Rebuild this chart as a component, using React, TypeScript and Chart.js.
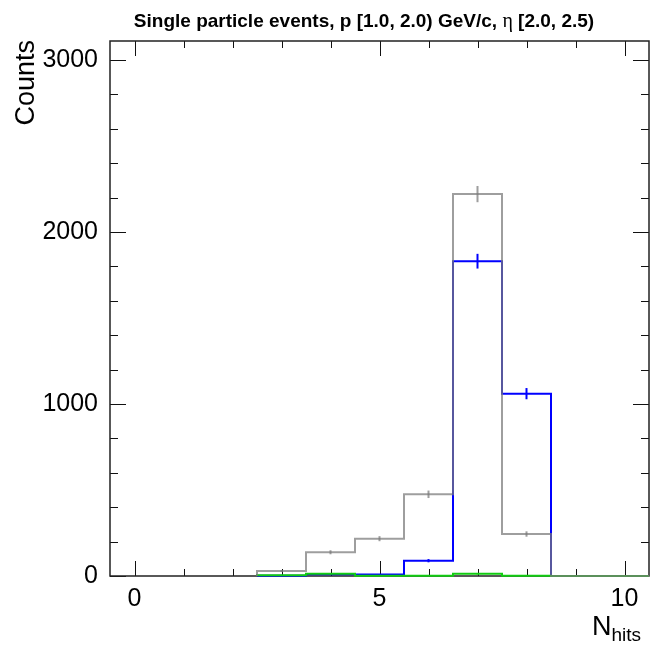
import React, { useEffect, useRef } from "react";
import { Chart, registerables } from "chart.js";

Chart.register(...registerables);

// ---- data ----
const binCenters = [3, 4, 5, 6, 7, 8, 9, 10];
const grayCounts = [29, 138, 217, 475, 2220, 244, 0, 0];
const blueCounts = [2, 10, 8, 89, 1830, 1060, 0, 0];
const greenCounts = [4, 13, 2, 2, 13, 1, 0, 0];
const xTickValues = [0, 5, 10];
const yTickValues = [0, 1000, 2000, 3000];
const titleParts = ["Single particle events, p [1.0, 2.0) GeV/c, ", "η", " [2.0, 2.5)"];
const yAxisTitle = "Counts";
const xAxisTitleMain = "N";
const xAxisTitleSub = "hits";

const X_MIN = -0.5;
const X_MAX = 10.5;
const Y_MAX = 3110;

const SANS = "'Liberation Sans', Arial, Helvetica, sans-serif";
const SERIF = "'Liberation Serif', 'Times New Roman', serif";

function stepPoints(counts: number[]) {
  const pts: { x: number; y: number }[] = [{ x: binCenters[0] - 0.5, y: 0 }];
  counts.forEach((v, i) => pts.push({ x: binCenters[i] + 0.5, y: v }));
  pts.push({ x: binCenters[binCenters.length - 1] + 0.5, y: 0 });
  return pts;
}

const errorBarPlugin = {
  id: "errorBars",
  afterDatasetDraw(chart: any, args: any) {
    const ds = chart.data.datasets[args.index];
    const counts: number[] = ds.counts;
    if (!counts) return;
    const ctx = chart.ctx;
    const xs = chart.scales.x;
    const ys = chart.scales.y;
    ctx.save();
    ctx.strokeStyle = ds.borderColor;
    ctx.lineWidth = 2;
    counts.forEach((v, i) => {
      if (v <= 0) return;
      const e = Math.sqrt(v);
      const px = xs.getPixelForValue(binCenters[i]);
      ctx.beginPath();
      ctx.moveTo(px, ys.getPixelForValue(v - e));
      ctx.lineTo(px, ys.getPixelForValue(v + e));
      ctx.stroke();
    });
    ctx.restore();
  },
};

const framePlugin = {
  id: "rootFrame",
  beforeDatasetsDraw(chart: any) {
    const ctx = chart.ctx;
    const a = chart.chartArea;
    const xs = chart.scales.x;
    const ys = chart.scales.y;
    ctx.save();
    ctx.strokeStyle = "#111";
    ctx.lineWidth = 1;
    // x ticks (every integer, major every 5)
    for (let v = 0; v <= 10; v++) {
      const px = Math.round(xs.getPixelForValue(v)) + 0.5;
      const len = v % 5 === 0 ? 15 : 7;
      ctx.beginPath();
      ctx.moveTo(px, a.bottom);
      ctx.lineTo(px, a.bottom - len);
      ctx.moveTo(px, a.top);
      ctx.lineTo(px, a.top + len);
      ctx.stroke();
    }
    // y ticks (every 200, major every 1000)
    for (let v = 0; v <= Y_MAX; v += 200) {
      const py = Math.round(ys.getPixelForValue(v)) + 0.5;
      const len = v % 1000 === 0 ? 16 : 8;
      ctx.beginPath();
      ctx.moveTo(a.left, py);
      ctx.lineTo(a.left + len, py);
      ctx.moveTo(a.right, py);
      ctx.lineTo(a.right - len, py);
      ctx.stroke();
    }
    // frame
    ctx.lineWidth = 1.5;
    ctx.strokeStyle = "#222";
    ctx.strokeRect(a.left, a.top, a.right - a.left, a.bottom - a.top);
    ctx.restore();
  },
  afterDraw(chart: any) {
    const ctx = chart.ctx;
    ctx.save();
    // title
    ctx.fillStyle = "#000";
    ctx.textBaseline = "alphabetic";
    ctx.textAlign = "left";
    const fonts = [`bold 19px ${SANS}`, `20px ${SERIF}`, `bold 19px ${SANS}`];
    let total = 0;
    const widths = titleParts.map((t, i) => {
      ctx.font = fonts[i];
      const w = ctx.measureText(t).width;
      total += w;
      return w;
    });
    let tx = 364 - total / 2;
    titleParts.forEach((t, i) => {
      ctx.font = fonts[i];
      ctx.fillText(t, tx, 27);
      tx += widths[i];
    });

    // y axis title
    ctx.save();
    ctx.translate(34, 40);
    ctx.rotate(-Math.PI / 2);
    ctx.font = `27px ${SANS}`;
    ctx.textAlign = "right";
    ctx.fillText(yAxisTitle, 0, 0);
    ctx.restore();

    // x axis title
    ctx.textAlign = "right";
    ctx.font = `19px ${SANS}`;
    const subW = ctx.measureText(xAxisTitleSub).width;
    ctx.fillText(xAxisTitleSub, 641, 641);
    ctx.font = `27px ${SANS}`;
    ctx.fillText(xAxisTitleMain, 641 - subW, 635);
    ctx.restore();
  },
};

function histDataset(label: string, counts: number[], color: string, order: number) {
  return {
    label,
    data: stepPoints(counts),
    counts,
    borderColor: color,
    borderWidth: 2,
    stepped: "after",
    pointRadius: 0,
    fill: false,
    clip: 4,
    order,
  } as any;
}

export default function App() {
  const ref = useRef<HTMLCanvasElement | null>(null);
  useEffect(() => {
    if (!ref.current) return;
    const chart = new Chart(ref.current, {
      type: "line",
      data: {
        datasets: [
          histDataset("all", grayCounts, "rgba(120,120,120,0.72)", 0),
          histDataset("green", greenCounts, "#11cc11", 1),
          histDataset("blue", blueCounts, "#0000ff", 2),
        ],
      },
      options: {
        responsive: false,
        animation: false,
        devicePixelRatio: 1,
        layout: { padding: { left: 0, right: 1, top: 41, bottom: 0 } },
        plugins: {
          legend: { display: false },
          title: { display: false },
          tooltip: { enabled: false },
        },
        scales: {
          x: {
            type: "linear",
            min: X_MIN,
            max: X_MAX,
            grid: { display: false, drawTicks: false },
            border: { display: false },
            afterBuildTicks: (s: any) => {
              s.ticks = xTickValues.map((v) => ({ value: v }));
            },
            afterFit: (s: any) => {
              s.height = 86;
            },
            ticks: {
              color: "#000",
              padding: 8,
              maxRotation: 0,
              font: { family: SANS, size: 25 },
              callback: (v: any) => String(v),
            },
          },
          y: {
            type: "linear",
            min: 0,
            max: Y_MAX,
            grid: { display: false, drawTicks: false },
            border: { display: false },
            afterBuildTicks: (s: any) => {
              s.ticks = yTickValues.map((v) => ({ value: v }));
            },
            afterFit: (s: any) => {
              s.width = 110;
            },
            ticks: {
              color: "#000",
              padding: 12,
              font: { family: SANS, size: 25 },
              callback: (v: any) => String(v),
            },
          },
        },
      } as any,
      plugins: [errorBarPlugin, framePlugin],
    });
    return () => chart.destroy();
  }, []);
  return (
    <div style={{ position: "fixed", left: 0, top: 0, width: 650, height: 662, background: "#fff" }}>
      <canvas ref={ref} width={650} height={662} />
    </div>
  );
}
